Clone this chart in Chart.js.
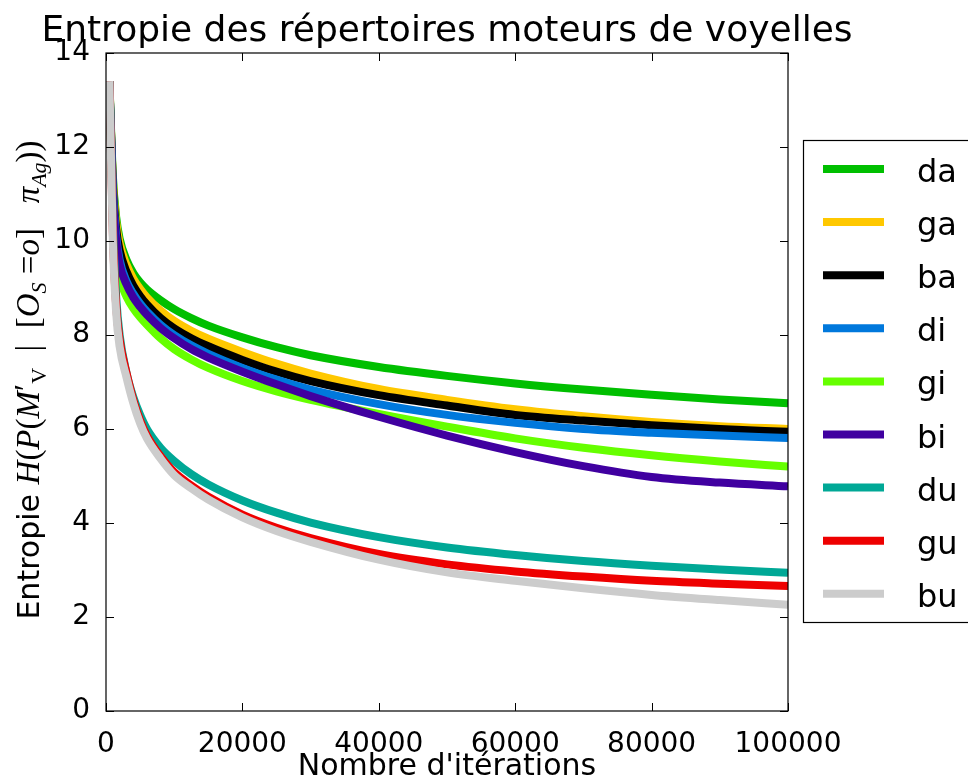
<!DOCTYPE html>
<html>
<head>
<meta charset="utf-8">
<script src="https://cdn.jsdelivr.net/npm/chart.js@4/dist/chart.umd.min.js"></script>
<style>
    html, body { margin: 0; padding: 0; overflow: hidden; background: #fff; }
    #wrap { width: 1000px; height: 800px; }
</style>
</head>
<body>
<div id="wrap"><canvas id="entropyChart"></canvas></div>
<script>
const iterations = [500, 1000, 1500, 2000, 3000, 4000, 5000, 6000, 8000, 10000, 12500, 15000, 20000, 25000, 30000, 40000, 50000, 60000, 70000, 80000, 90000, 100000];

const da = [13.4, 11.4, 10.5, 10.05, 9.6, 9.32, 9.12, 8.97, 8.74, 8.55, 8.36, 8.2, 7.95, 7.74, 7.57, 7.32, 7.13, 6.97, 6.84, 6.73, 6.63, 6.55];
const ga = [13.4, 11.3, 10.4, 9.95, 9.5, 9.2, 8.98, 8.8, 8.52, 8.3, 8.09, 7.92, 7.64, 7.39, 7.18, 6.85, 6.62, 6.42, 6.27, 6.15, 6.06, 6.0];
const ba = [13.4, 11.2, 10.25, 9.8, 9.35, 9.05, 8.83, 8.65, 8.36, 8.14, 7.93, 7.76, 7.47, 7.22, 7.02, 6.72, 6.5, 6.3, 6.18, 6.08, 6.0, 5.94];
const di = [13.4, 11.1, 10.1, 9.6, 9.15, 8.88, 8.67, 8.5, 8.22, 8.0, 7.78, 7.6, 7.3, 7.05, 6.84, 6.53, 6.3, 6.13, 6.0, 5.92, 5.86, 5.81];
const gi = [13.4, 10.7, 9.6, 9.2, 8.82, 8.57, 8.38, 8.22, 7.93, 7.7, 7.48, 7.3, 7.02, 6.8, 6.62, 6.32, 6.05, 5.8, 5.6, 5.44, 5.31, 5.2];
const bi = [13.4, 11.0, 10.0, 9.5, 9.08, 8.8, 8.6, 8.43, 8.15, 7.93, 7.7, 7.52, 7.22, 6.95, 6.7, 6.26, 5.86, 5.51, 5.21, 4.98, 4.86, 4.78];
const du = [13.4, 10.4, 8.8, 8.0, 7.2, 6.68, 6.3, 6.0, 5.6, 5.32, 5.04, 4.82, 4.48, 4.22, 4.01, 3.7, 3.48, 3.32, 3.19, 3.09, 3.01, 2.94];
const gu = [13.4, 10.2, 8.6, 7.9, 7.2, 6.62, 6.18, 5.86, 5.42, 5.08, 4.8, 4.56, 4.18, 3.9, 3.68, 3.34, 3.12, 2.97, 2.86, 2.77, 2.71, 2.66];
const bu = [13.4, 10.0, 8.45, 7.75, 7.1, 6.55, 6.12, 5.8, 5.37, 5.02, 4.74, 4.5, 4.12, 3.83, 3.6, 3.22, 2.95, 2.77, 2.61, 2.47, 2.36, 2.26];

const labels = ['da', 'ga', 'ba', 'di', 'gi', 'bi', 'du', 'gu', 'bu'];
const series = [da, ga, ba, di, gi, bi, du, gu, bu];
const colors = ['#00bf00', '#ffc800', '#000000', '#0078dc', '#66ff00', '#4000a0', '#00a896', '#ee0000', '#cccccc'];

const xTicks = [0, 20000, 40000, 60000, 80000, 100000];
const yTicks = [0, 2, 4, 6, 8, 10, 12, 14];

const chartTitle = 'Entropie des répertoires moteurs de voyelles';

// title centred over the plot area
const titlePlugin = {
    id: 'plotTitle',
    afterDraw(chart) {
        const {ctx, chartArea: a} = chart;
        ctx.save();
        ctx.font = '36px "DejaVu Sans"';
        ctx.fillStyle = '#000';
        ctx.textAlign = 'center';
        ctx.textBaseline = 'alphabetic';
        ctx.fillText(chartTitle, (a.left + a.right) / 2, 41);
        ctx.restore();
    }
};

// frame + inward ticks on all four sides
const framePlugin = {
    id: 'frame',
    afterDatasetsDraw(chart) {
        const {ctx, chartArea: a, scales: {x, y}} = chart;
        ctx.save();
        ctx.strokeStyle = '#000';
        ctx.lineWidth = 1.2;
        ctx.strokeRect(a.left, a.top, a.right - a.left, a.bottom - a.top);
        ctx.lineWidth = 1;
        ctx.beginPath();
        xTicks.forEach(v => {
            const px = Math.round(x.getPixelForValue(v)) + 0.5;
            ctx.moveTo(px, a.bottom); ctx.lineTo(px, a.bottom - 8);
            ctx.moveTo(px, a.top); ctx.lineTo(px, a.top + 8);
        });
        yTicks.forEach(v => {
            const py = Math.round(y.getPixelForValue(v)) + 0.5;
            ctx.moveTo(a.left, py); ctx.lineTo(a.left + 8, py);
            ctx.moveTo(a.right, py); ctx.lineTo(a.right - 8, py);
        });
        ctx.stroke();
        ctx.restore();
    }
};

// y axis title with math-like pieces
const yTitlePlugin = {
    id: 'yTitle',
    afterDraw(chart) {
        const ctx = chart.ctx;
        const it = 'italic 33px "Liberation Serif"';
        const rm = '33px "Liberation Serif"';
        const subIt = 'italic 22px "Liberation Serif"';
        const subRm = '22px "Liberation Serif"';
        const parts = [
            {t: 'Entropie ', f: '30px "DejaVu Sans"', dy: 0},
            {t: 'H', f: it, dy: 0},
            {t: '(', f: rm, dy: 0},
            {t: 'P', f: it, dy: 0},
            {t: '(', f: rm, dy: 0},
            {t: 'M', f: it, dy: 0},
            {t: '\u2032', f: rm, dy: -2},
            {t: 'V', f: subRm, dy: 7},
            {t: '  |  ', f: rm, dy: 0},
            {t: '[', f: rm, dy: 0},
            {t: 'O', f: it, dy: 0},
            {t: 'S', f: subIt, dy: 7},
            {t: ' =', f: rm, dy: 0},
            {t: 'o', f: it, dy: 0},
            {t: ']', f: rm, dy: 0},
            {t: '   \u03c0', f: it, dy: 0},
            {t: 'Ag', f: subIt, dy: 7},
            {t: '))', f: rm, dy: 0}
        ];
        ctx.save();
        let total = 0;
        parts.forEach(p => { ctx.font = p.f; p.w = ctx.measureText(p.t).width; total += p.w; });
        ctx.translate(39, 380);
        ctx.rotate(-Math.PI / 2);
        ctx.fillStyle = '#000';
        ctx.textBaseline = 'alphabetic';
        let cx = -total / 2;
        parts.forEach(p => {
            ctx.font = p.f;
            ctx.fillText(p.t, cx, p.dy);
            cx += p.w;
        });
        ctx.restore();
    }
};

// boxed legend on the right, partly outside the window
const legendPlugin = {
    id: 'boxLegend',
    afterDraw(chart) {
        const ctx = chart.ctx;
        ctx.save();
        ctx.strokeStyle = '#000';
        ctx.lineWidth = 1.2;
        ctx.strokeRect(803.5, 140.5, 200, 482);
        ctx.font = '32px "DejaVu Sans"';
        ctx.textBaseline = 'alphabetic';
        chart.data.datasets.forEach((ds, i) => {
            const yy = 169 + i * 53.1;
            ctx.strokeStyle = ds.borderColor;
            ctx.lineWidth = 8;
            ctx.beginPath();
            ctx.moveTo(823, yy);
            ctx.lineTo(884, yy);
            ctx.stroke();
            ctx.fillStyle = '#000';
            ctx.fillText(ds.label, 917, yy + 13);
        });
        ctx.restore();
    }
};

new Chart(document.getElementById('entropyChart'), {
    type: 'line',
    data: {
        datasets: labels.map((l, i) => ({
            label: l,
            data: iterations.map((x, j) => ({x: x, y: series[i][j]})),
            borderColor: colors[i],
            backgroundColor: colors[i],
            borderWidth: 8,
            pointRadius: 0,
            fill: false,
            cubicInterpolationMode: 'monotone',
            clip: 0,
            order: labels.length - 1 - i
        }))
    },
    options: {
        responsive: true,
        maintainAspectRatio: false,
        animation: false,
        layout: {padding: {left: 0, right: 212, top: 53, bottom: 0}},
        plugins: {
            legend: {display: false},
            tooltip: {enabled: false},
            title: {display: false}
        },
        scales: {
            x: {
                type: 'linear',
                min: 0,
                max: 100000,
                grid: {display: false},
                border: {display: false},
                ticks: {
                    stepSize: 20000,
                    autoSkip: false,
                    maxRotation: 0,
                    color: '#000',
                    padding: 9,
                    font: {family: 'DejaVu Sans', size: 28},
                    callback: v => String(v)
                },
                title: {
                    display: true,
                    text: "Nombre d'itérations",
                    color: '#000',
                    font: {family: 'DejaVu Sans', size: 30},
                    padding: {top: 0, bottom: 15}
                },
                afterFit: s => { s.height = 89; }
            },
            y: {
                min: 0,
                max: 14,
                grid: {display: false},
                border: {display: false},
                ticks: {
                    stepSize: 2,
                    color: '#000',
                    padding: 8,
                    font: {family: 'DejaVu Sans', size: 28},
                    callback: v => String(v)
                },
                afterFit: s => { s.width = 106; }
            }
        }
    },
    plugins: [titlePlugin, framePlugin, yTitlePlugin, legendPlugin]
});
</script>
</body>
</html>
